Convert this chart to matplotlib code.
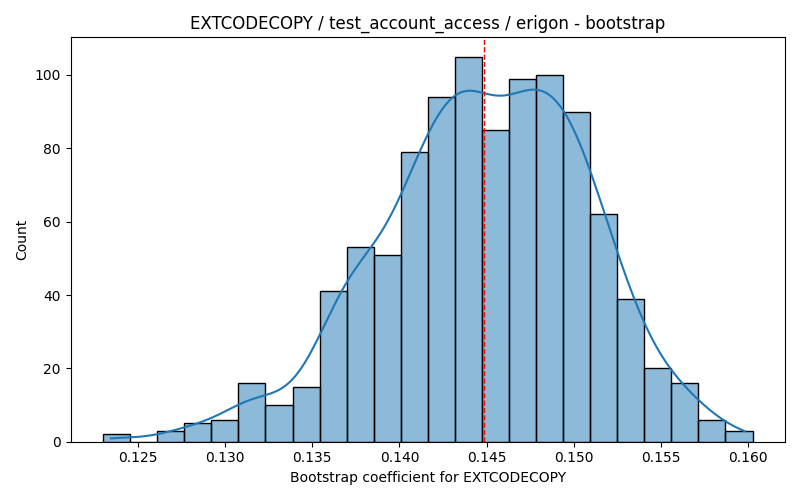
import numpy as np
import pandas as pd
import matplotlib
matplotlib.use('Agg')
import matplotlib.pyplot as plt
import seaborn as sns

# --- Data ---
x_min = 0.12302            # left edge of first bin
x_max = 0.16024            # right edge of last bin
counts = [2, 0, 3, 5, 6, 16, 10, 15, 41, 53, 51, 79,
          94, 105, 85, 99, 100, 90, 62, 39, 20, 16, 6, 3]
mean_line = 0.14486        # red dashed reference line

title = 'EXTCODECOPY / test_account_access / erigon - bootstrap'
xlabel = 'Bootstrap coefficient for EXTCODECOPY'

# bin centres
edges = np.linspace(x_min, x_max, len(counts) + 1)
centres = 0.5 * (edges[:-1] + edges[1:])
df = pd.DataFrame({'coef': centres, 'n': counts})

fig, ax = plt.subplots(figsize=(8, 5), dpi=100)
sns.histplot(data=df, x='coef', weights='n', bins=len(counts),
             binrange=(x_min, x_max), kde=True,
             kde_kws={'bw_adjust': 0.41, 'cut': 0.14}, ax=ax)
ax.axvline(mean_line, color='red', linestyle='--', linewidth=1)
ax.set_title(title)
ax.set_xlabel(xlabel)
ax.set_ylabel('Count')

plt.tight_layout()
plt.savefig('out.png')
